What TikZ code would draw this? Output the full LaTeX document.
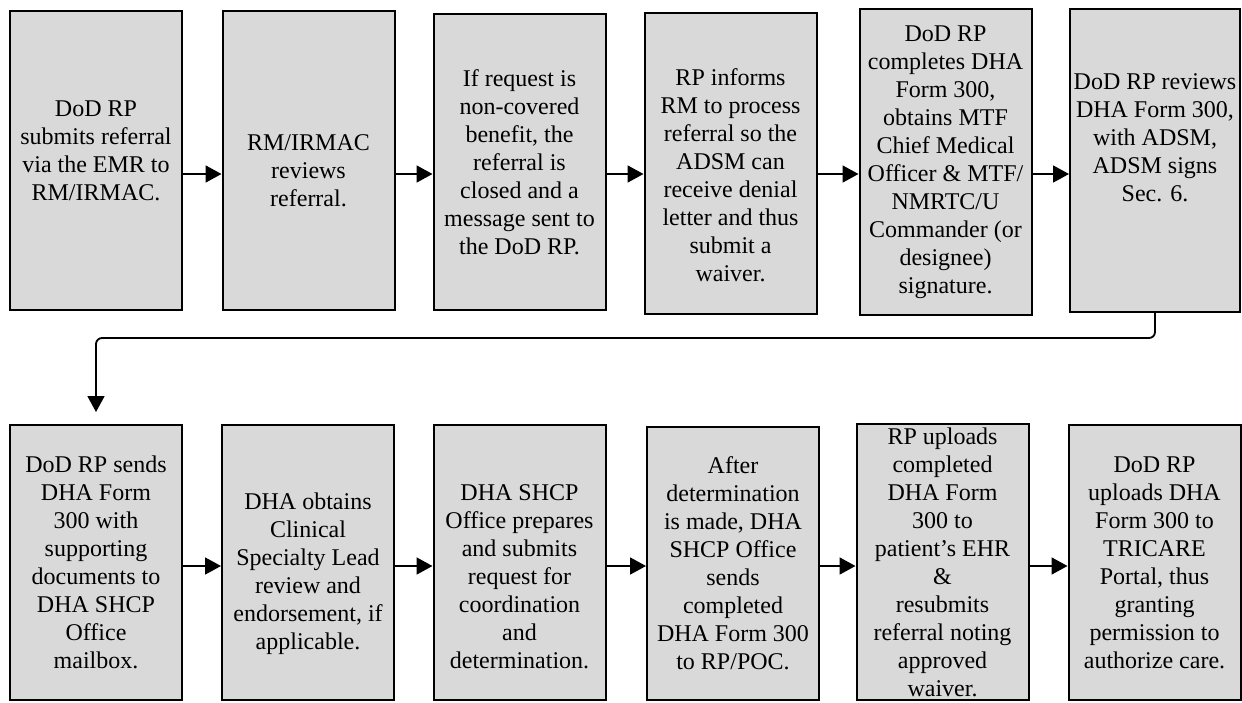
\documentclass[tikz,border=0pt]{standalone}
\usepackage{fontspec}
\setmainfont{Liberation Serif}
\usetikzlibrary{arrows.meta}
\definecolor{boxgray}{RGB}{217,217,217}
\newcommand{\padtop}[1]{\rule{0pt}{#1}}
\newcommand{\padbot}[1]{\rule[-#1]{0pt}{#1}}

\begin{document}
\begin{tikzpicture}[x=0.5pt,y=-0.5pt,
    stepbox/.style={draw, line width=1pt, fill=boxgray, align=center, inner sep=0pt,
        minimum width=86pt, font=\fontsize{12}{14}\selectfont},
    flow/.style={-{Triangle[length=8pt,width=8.5pt]}, line width=0.9pt}]
    \useasboundingbox (0,0) rectangle (1242,702);
    \coordinate (rowA) at (0,174);
    \coordinate (rowB) at (0,566);
    \coordinate (turn) at (0,338);
    %Top row
    \node[stepbox, minimum height=149.5pt] (b1) at (96,160.5)
        {DoD RP\\submits referral\\via the EMR to\\RM/IRMAC.\padbot{10pt}};
    \node[stepbox, minimum height=149.5pt] (b2) at (308.5,160.5)
        {\padtop{18.4pt}RM/IRMAC\\reviews\\referral.};
    \node[stepbox, minimum height=148pt] (b3) at (519.5,162)
        {If request is\\non-covered\\benefit, the\\referral is\\closed and a\\message sent to\\the DoD RP.};
    \node[stepbox, minimum height=150.5pt] (b4) at (730.5,163.5)
        {\padtop{19.7pt}RP informs\\RM to process\\referral so the\\ADSM can\\receive denial\\letter and thus\\submit a\\waiver.};
    \node[stepbox, minimum height=153pt] (b5) at (945.5,162)
        {DoD RP\\completes DHA\\Form 300,\\obtains MTF\\Chief Medical\\Officer \& MTF/\\NMRTC/U\\Commander (or\\designee)\\signature.};
    \node[stepbox, minimum width=85pt, minimum height=151.5pt] (b6) at (1155,160.5)
        {DoD RP reviews\\DHA Form 300,\\with ADSM,\\ADSM signs\\Sec. 6.\padbot{22.5pt}};
    \draw[flow] (b1.east |- rowA) -- (b2.west |- rowA);
    \draw[flow] (b2.east |- rowA) -- (b3.west |- rowA);
    \draw[flow] (b3.east |- rowA) -- (b4.west |- rowA);
    \draw[flow] (b4.east |- rowA) -- (b5.west |- rowA);
    \draw[flow] (b5.east |- rowA) -- (b6.west |- rowA);
    %Bottom row
    \node[stepbox, minimum height=137.5pt] (b7) at (96,562.5)
        {DoD RP sends\\DHA Form\\300 with\\supporting\\documents to\\DHA SHCP\\Office\\mailbox.};
    \node[stepbox, minimum height=137.5pt] (b8) at (308,562.5)
        {\padtop{19.7pt}DHA obtains\\Clinical\\Specialty Lead\\review and\\endorsement, if\\applicable.};
    \node[stepbox, minimum height=137.5pt] (b9) at (519.5,562.5)
        {\padtop{22.4pt}DHA SHCP\\Office prepares\\and submits\\request for\\coordination\\and\\determination.};
    \node[stepbox, minimum height=136.5pt] (b10) at (733,563.5)
        {After\\determination\\is made, DHA\\SHCP Office\\sends\\completed\\DHA Form 300\\to RP/POC.};
    \node[stepbox, minimum height=138pt] (b11) at (942.5,562)
        {RP uploads\\completed\\DHA Form\\300 to\\patient’s EHR\\\&\\resubmits\\referral noting\\approved\\waiver.};
    \node[stepbox, minimum height=137.5pt] (b12) at (1154.5,562.5)
        {DoD RP\\uploads DHA\\Form 300 to\\TRICARE\\Portal, thus\\granting\\permission to\\authorize care.};
    \draw[flow] (b7.east |- rowB) -- (b8.west |- rowB);
    \draw[flow] (b8.east |- rowB) -- (b9.west |- rowB);
    \draw[flow] (b9.east |- rowB) -- (b10.west |- rowB);
    \draw[flow] (b10.east |- rowB) -- (b11.west |- rowB);
    \draw[flow] (b11.east |- rowB) -- (b12.west |- rowB);
    %Link down
    \draw[flow, rounded corners=3pt, shorten >=6pt] (b6.south) -- (b6.south |- turn)
        -- (b7.north |- turn) -- (b7.north);
\end{tikzpicture}
\end{document}
